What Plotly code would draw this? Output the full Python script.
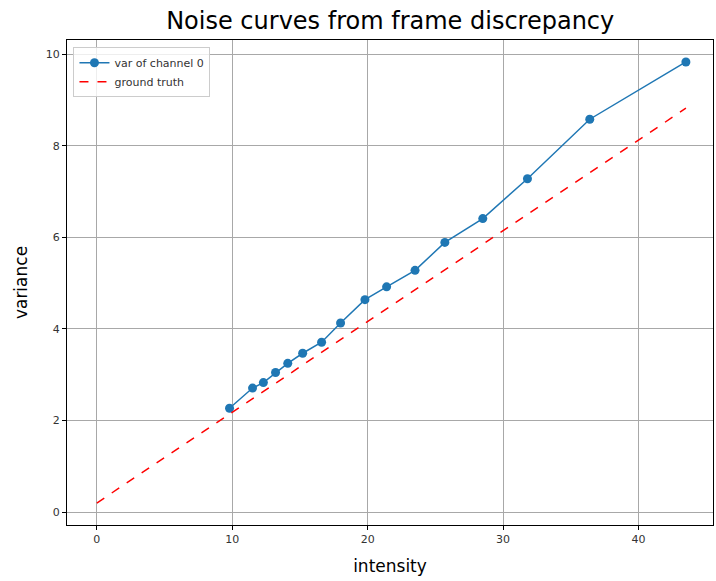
import plotly.graph_objects as go

intensity = [9.8, 11.5, 12.3, 13.2, 14.1, 15.2, 16.6, 18.0, 19.8, 21.4, 23.5, 25.7, 28.5, 31.8, 36.4, 43.5]
variance = [2.27, 2.71, 2.83, 3.05, 3.25, 3.47, 3.71, 4.13, 4.64, 4.92, 5.28, 5.89, 6.41, 7.28, 8.58, 9.83]
gt_x = [0, 43.5]
gt_y = [0.2, 8.82]

fig = go.Figure()
fig.add_trace(go.Scatter(x=intensity, y=variance, mode="lines+markers", name="var of channel 0",
                         line=dict(color="#1f77b4", width=1.5),
                         marker=dict(color="#1f77b4", size=9)))
fig.add_trace(go.Scatter(x=gt_x, y=gt_y, mode="lines", name="ground truth",
                         line=dict(color="red", width=1.5, dash="dash")))

axis_common = dict(showgrid=True, gridcolor="#a8a8a8", gridwidth=1, showline=True, linecolor="black",
                   linewidth=1, mirror=True, ticks="outside", ticklen=4, tickcolor="black",
                   zeroline=False, tickfont=dict(family="DejaVu Sans", size=11, color="#333333"))

fig.update_layout(
    width=716, height=581,
    margin=dict(l=67, r=3, t=40, b=56),
    paper_bgcolor="white", plot_bgcolor="white",
    title=dict(text="Noise curves from frame discrepancy", x=0.545, xanchor="center", y=0.965, yanchor="middle",
               font=dict(family="DejaVu Sans", size=24, color="black")),
    xaxis=dict(range=[-2.2, 45.5], tickvals=[0, 10, 20, 30, 40],
               title=dict(text="intensity", font=dict(family="DejaVu Sans", size=17, color="black"), standoff=14),
               **axis_common),
    yaxis=dict(range=[-0.28, 10.31], tickvals=[0, 2, 4, 6, 8, 10],
               title=dict(text="variance", font=dict(family="DejaVu Sans", size=17, color="black"), standoff=13),
               **axis_common),
    legend=dict(x=0.01, y=0.985, xanchor="left", yanchor="top", bgcolor="rgba(255,255,255,0.8)",
                bordercolor="#cccccc", borderwidth=1, font=dict(family="DejaVu Sans", size=11, color="#333333")),
    showlegend=True,
)

fig.write_html("out.html")
